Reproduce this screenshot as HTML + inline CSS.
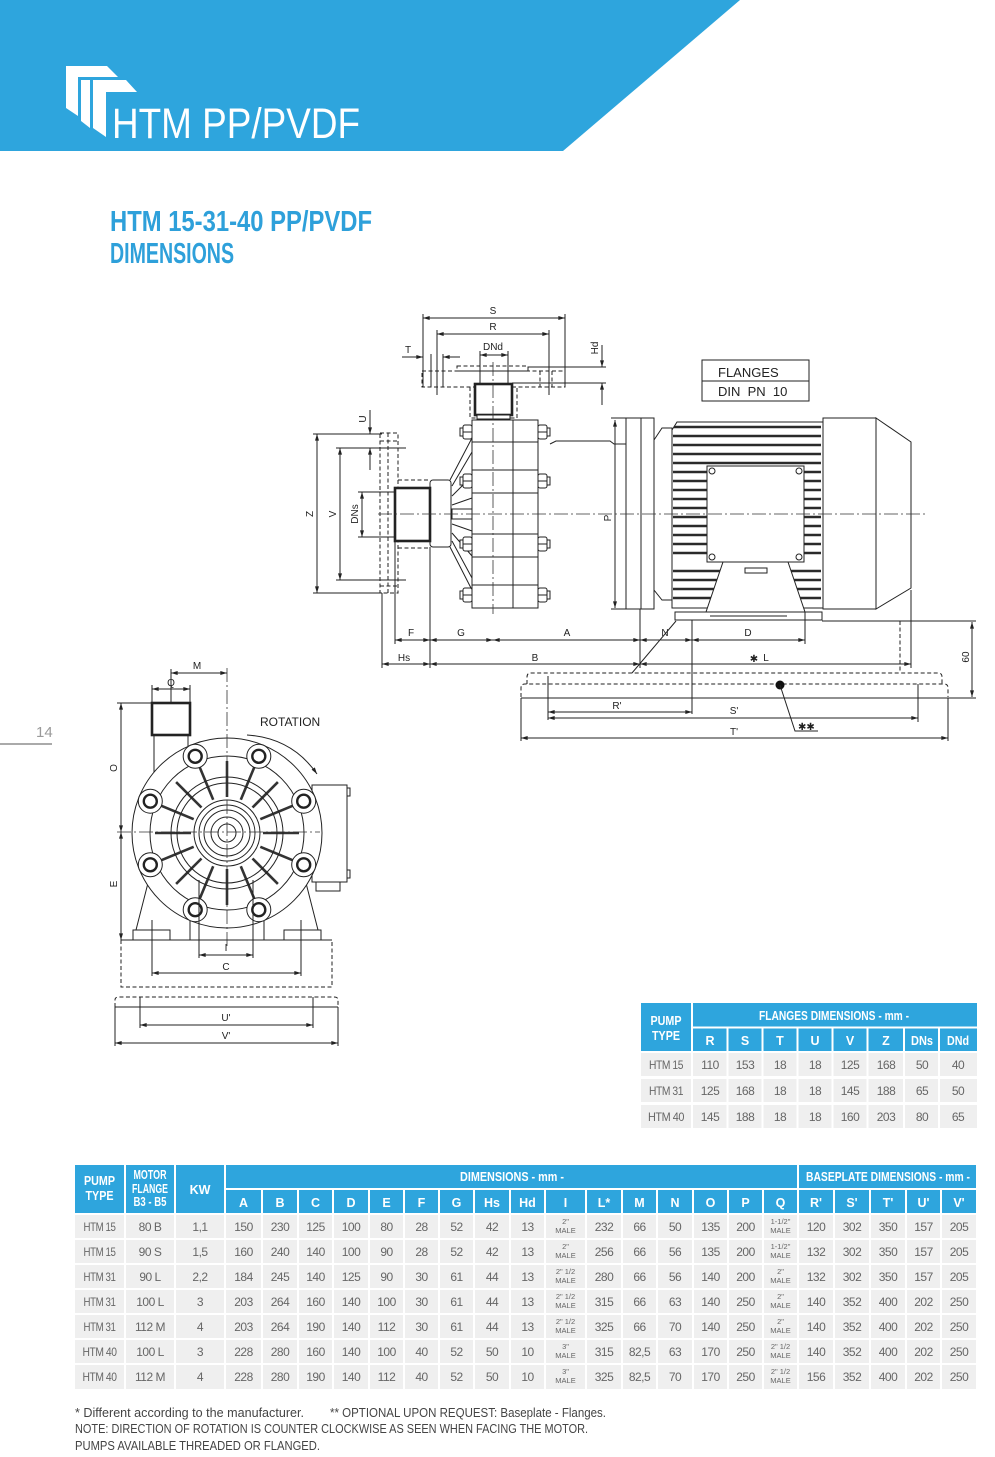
<!DOCTYPE html>
<html><head><meta charset="utf-8"><style>
html,body{margin:0;padding:0;background:#fff;}
svg{display:block;}
.d{stroke:#222;stroke-width:1;fill:none;}
.dd{stroke:#222;stroke-width:1;fill:none;stroke-dasharray:4,2.5;}
.cl{stroke:#333;stroke-width:0.8;fill:none;stroke-dasharray:14,3,2,3;}
.th{stroke:#222;stroke-width:2.6;fill:#fff;}
.w{stroke:#222;stroke-width:1;fill:#fff;}
.fin{stroke:#2a2a2a;stroke-width:2.6;}
.lb{font-family:"Liberation Sans",sans-serif;font-size:10px;fill:#222;}
.tb{font-family:"Liberation Sans Narrow","Liberation Sans",sans-serif;fill:#666;font-size:12px;letter-spacing:-0.5px;text-anchor:middle;}
.th2{font-family:"Liberation Sans Narrow","Liberation Sans",sans-serif;fill:#fff;font-size:12.5px;text-anchor:middle;font-weight:bold;}
.fr{font-family:"Liberation Sans Narrow","Liberation Sans",sans-serif;fill:#666;font-size:7.5px;text-anchor:middle;}
.ft{font-family:"Liberation Sans Narrow","Liberation Sans",sans-serif;fill:#444;font-size:12.5px;}
</style></head><body>
<svg width="995" height="1457" viewBox="0 0 995 1457" xmlns="http://www.w3.org/2000/svg">
<defs>
<marker id="a" viewBox="0 0 10 6" refX="10" refY="3" markerWidth="7" markerHeight="4" markerUnits="userSpaceOnUse" orient="auto-start-reverse"><path d="M0,0 L10,3 L0,6z" fill="#222"/></marker>
</defs>

<!-- HEADER -->
<polygon points="0,0 740,0 563,151 0,151" fill="#2ea5dd"/>
<polygon points="66,66 107,66 118,77 78,77 78,116 66,108" fill="#fff"/>
<polygon points="81,80 90,80 90,128 81,121" fill="#fff"/>
<polygon points="93,80 126,80 137,92 106,92 106,137 93,128" fill="#fff"/>
<text x="112" y="138" font-family="Liberation Sans, sans-serif" font-size="43" fill="#fff" textLength="248" lengthAdjust="spacingAndGlyphs">HTM PP/PVDF</text>

<!-- TITLE -->
<text x="110" y="231" font-family="Liberation Sans, sans-serif" font-size="29" font-weight="bold" fill="#2ea0da" textLength="262" lengthAdjust="spacingAndGlyphs">HTM 15-31-40 PP/PVDF</text>
<text x="110" y="263" font-family="Liberation Sans, sans-serif" font-size="29" font-weight="bold" fill="#2ea0da" textLength="124" lengthAdjust="spacingAndGlyphs">DIMENSIONS</text>

<!-- page number -->
<text x="36" y="737" font-family="Liberation Sans, sans-serif" font-size="15" fill="#9a9a9a">14</text>
<line x1="0" y1="744" x2="52" y2="744" stroke="#aaa" stroke-width="2"/>

<!-- ============ FRONT VIEW DRAWING ============ -->
<text class="lb" x="493" y="314" text-anchor="middle">S</text>
<line class="d" x1="423" y1="318" x2="565" y2="318" marker-start="url(#a)" marker-end="url(#a)"/>
<line class="d" x1="423" y1="314" x2="423" y2="387"/>
<line class="d" x1="565" y1="314" x2="565" y2="387"/>
<text class="lb" x="493" y="330" text-anchor="middle">R</text>
<line class="d" x1="437" y1="334" x2="549" y2="334" marker-start="url(#a)" marker-end="url(#a)"/>
<line class="d" x1="437" y1="330" x2="437" y2="395"/>
<line class="d" x1="549" y1="330" x2="549" y2="395"/>
<text class="lb" x="493" y="350" text-anchor="middle">DNd</text>
<line class="d" x1="480" y1="355" x2="508" y2="355" marker-start="url(#a)" marker-end="url(#a)"/>
<line class="d" x1="480" y1="351" x2="480" y2="383"/>
<line class="d" x1="508" y1="351" x2="508" y2="383"/>
<text class="lb" x="408" y="353" text-anchor="middle">T</text>
<line class="d" x1="402" y1="357" x2="423" y2="357" marker-end="url(#a)"/>
<line class="d" x1="460" y1="357" x2="443" y2="357" marker-end="url(#a)"/>
<line class="d" x1="431" y1="354" x2="431" y2="387"/>
<line class="d" x1="443" y1="354" x2="443" y2="387"/>
<text class="lb" transform="translate(598,348) rotate(-90)" text-anchor="middle">Hd</text>
<line class="d" x1="602" y1="345" x2="602" y2="367" marker-end="url(#a)"/>
<line class="d" x1="602" y1="405" x2="602" y2="383" marker-end="url(#a)"/>
<line class="d" x1="528" y1="367" x2="606" y2="367"/>
<line class="d" x1="512" y1="383" x2="606" y2="383"/>

<rect class="dd" x="422" y="371" width="143" height="16"/>
<rect class="dd" x="457" y="366" width="71" height="5"/>
<line class="dd" x1="540" y1="371" x2="540" y2="387"/>
<line class="dd" x1="552" y1="371" x2="552" y2="387"/>
<path class="dd" d="M470,387 V418 H517 V387"/>
<rect class="th" x="475" y="384" width="37" height="31"/>
<rect class="w" x="477" y="415" width="33" height="4"/>

<rect class="d" x="702" y="360" width="107" height="41"/>
<line class="d" x1="702" y1="381" x2="809" y2="381"/>
<text x="718" y="377" font-family="Liberation Sans, sans-serif" font-size="13" fill="#222">FLANGES</text>
<text x="718" y="396" font-family="Liberation Sans, sans-serif" font-size="13" fill="#222" xml:space="preserve">DIN  PN  10</text>

<line class="d" x1="317" y1="434" x2="317" y2="593" marker-start="url(#a)" marker-end="url(#a)"/>
<line class="d" x1="313" y1="434" x2="382" y2="434"/>
<line class="d" x1="313" y1="593" x2="382" y2="593"/>
<text class="lb" transform="translate(313,514) rotate(-90)" text-anchor="middle">Z</text>
<line class="d" x1="340" y1="448" x2="340" y2="580" marker-start="url(#a)" marker-end="url(#a)"/>
<line class="d" x1="336" y1="448" x2="406" y2="448"/>
<line class="d" x1="336" y1="580" x2="406" y2="580"/>
<text class="lb" transform="translate(336,514) rotate(-90)" text-anchor="middle">V</text>
<line class="d" x1="362" y1="492" x2="362" y2="537" marker-start="url(#a)" marker-end="url(#a)"/>
<line class="d" x1="358" y1="492" x2="396" y2="492"/>
<line class="d" x1="358" y1="537" x2="396" y2="537"/>
<text class="lb" transform="translate(358,514) rotate(-90)" text-anchor="middle">DNs</text>
<line class="d" x1="370" y1="410" x2="370" y2="434" marker-end="url(#a)"/>
<line class="d" x1="370" y1="470" x2="370" y2="448" marker-end="url(#a)"/>
<text class="lb" transform="translate(366,419) rotate(-90)" text-anchor="middle">U</text>

<rect class="dd" x="380" y="433" width="18" height="160"/>
<line class="dd" x1="380" y1="441" x2="398" y2="441"/>
<line class="dd" x1="380" y1="586" x2="398" y2="586"/>
<line class="dd" x1="388" y1="433" x2="388" y2="593"/>
<line class="dd" x1="398" y1="480" x2="430" y2="480"/>
<line class="dd" x1="398" y1="548" x2="430" y2="548"/>

<path class="d" d="M450,480 L472,438 M450,547 L472,590 M452,486 L472,452 M452,496 L472,476 M452,505 L472,498 M452,524 L472,531 M452,533 L472,556 M452,541 L472,578"/>
<rect class="w" x="452" y="509" width="20" height="10"/>
<rect class="w" x="430" y="480" width="21" height="67" rx="3"/>
<rect class="th" x="395" y="488" width="35" height="53"/>

<rect class="w" x="472" y="420" width="66" height="188"/>
<line class="d" x1="513" y1="420" x2="513" y2="608"/>
<path class="d" d="M472,442 H538 M472,470 H538 M472,493 H538 M472,534 H538 M472,557 H538 M472,585 H538"/>
<g class="w">
<rect x="463" y="425" width="9" height="14" rx="2"/><rect x="538" y="425" width="9" height="14" rx="2"/>
<rect x="463" y="474" width="9" height="14" rx="2"/><rect x="538" y="474" width="9" height="14" rx="2"/>
<rect x="463" y="537" width="9" height="14" rx="2"/><rect x="538" y="537" width="9" height="14" rx="2"/>
<rect x="463" y="588" width="9" height="14" rx="2"/><rect x="538" y="588" width="9" height="14" rx="2"/>
<rect x="460" y="428" width="3" height="8"/><rect x="547" y="428" width="3" height="8"/>
<rect x="460" y="477" width="3" height="8"/><rect x="547" y="477" width="3" height="8"/>
<rect x="460" y="540" width="3" height="8"/><rect x="547" y="540" width="3" height="8"/>
<rect x="460" y="591" width="3" height="8"/><rect x="547" y="591" width="3" height="8"/>
</g>
<path class="d" d="M463,432 H472 M538,432 H547 M463,481 H472 M538,481 H547 M463,544 H472 M538,544 H547 M463,595 H472 M538,595 H547"/>
<polyline class="d" points="550,444 556,441 610,441 614,444 626,444"/>

<line class="d" x1="615" y1="420" x2="615" y2="608" marker-start="url(#a)" marker-end="url(#a)"/>
<line class="d" x1="611" y1="418" x2="626" y2="418"/>
<line class="d" x1="611" y1="609" x2="626" y2="609"/>
<text class="lb" transform="translate(611,518) rotate(-90)" text-anchor="middle">P</text>

<rect class="w" x="626" y="418" width="28" height="191"/>
<line class="d" x1="641" y1="418" x2="641" y2="609"/>
<polygon class="w" points="654,440 662,428 672,428 672,600 662,600 654,590"/>
<polygon class="w" points="672,430 677,422 823,422 823,608 672,608"/>
<g class="fin">
<line x1="674" y1="427" x2="821" y2="427"/><line x1="673" y1="436" x2="821" y2="436"/>
<line x1="673" y1="445" x2="821" y2="445"/><line x1="673" y1="454" x2="821" y2="454"/>
<line x1="673" y1="463" x2="821" y2="463"/>
<line x1="673" y1="472" x2="707" y2="472"/><line x1="804" y1="472" x2="821" y2="472"/>
<line x1="673" y1="481" x2="707" y2="481"/><line x1="804" y1="481" x2="821" y2="481"/>
<line x1="673" y1="490" x2="707" y2="490"/><line x1="804" y1="490" x2="821" y2="490"/>
<line x1="673" y1="499" x2="707" y2="499"/><line x1="804" y1="499" x2="821" y2="499"/>
<line x1="673" y1="508" x2="707" y2="508"/><line x1="804" y1="508" x2="821" y2="508"/>
<line x1="673" y1="517" x2="707" y2="517"/><line x1="804" y1="517" x2="821" y2="517"/>
<line x1="673" y1="526" x2="707" y2="526"/><line x1="804" y1="526" x2="821" y2="526"/>
<line x1="673" y1="535" x2="707" y2="535"/><line x1="804" y1="535" x2="821" y2="535"/>
<line x1="673" y1="544" x2="707" y2="544"/><line x1="804" y1="544" x2="821" y2="544"/>
<line x1="673" y1="553" x2="707" y2="553"/><line x1="804" y1="553" x2="821" y2="553"/>
<line x1="673" y1="571" x2="720" y2="571"/><line x1="791" y1="571" x2="821" y2="571"/>
<line x1="673" y1="580" x2="717" y2="580"/><line x1="794" y1="580" x2="821" y2="580"/>
<line x1="673" y1="589" x2="714" y2="589"/><line x1="797" y1="589" x2="821" y2="589"/>
<line x1="673" y1="598" x2="711" y2="598"/><line x1="800" y1="598" x2="821" y2="598"/>
</g>
<rect class="w" x="707" y="466" width="97" height="96"/>
<circle class="d" cx="712" cy="471" r="3"/><circle class="d" cx="799" cy="471" r="3"/>
<circle class="d" cx="712" cy="557" r="3"/><circle class="d" cx="799" cy="557" r="3"/>
<polygon class="w" points="723,562 788,562 805,612 706,612"/>
<rect class="w" x="745" y="568" width="22" height="5"/>
<rect class="w" x="675" y="612" width="147" height="8"/>
<line class="d" x1="710" y1="616" x2="787" y2="616"/>
<rect class="w" x="823" y="418" width="53" height="191"/>
<polygon class="w" points="876,418 911,442 911,588 876,609"/>

<line class="cl" x1="378" y1="514" x2="926" y2="514"/>
<line class="cl" x1="493" y1="362" x2="493" y2="614"/>

<path class="d" d="M382,593 V668 M395,541 V644 M430,547 V668 M640,609 V668 M692,620 V714 M805,612 V644 M911,590 V668"/>
<line class="d" x1="395" y1="640" x2="430" y2="640" marker-start="url(#a)" marker-end="url(#a)"/>
<line class="d" x1="430" y1="640" x2="493" y2="640" marker-start="url(#a)" marker-end="url(#a)"/>
<line class="d" x1="493" y1="640" x2="640" y2="640" marker-start="url(#a)" marker-end="url(#a)"/>
<line class="d" x1="640" y1="640" x2="692" y2="640" marker-start="url(#a)" marker-end="url(#a)"/>
<line class="d" x1="692" y1="640" x2="805" y2="640" marker-start="url(#a)" marker-end="url(#a)"/>
<text class="lb" x="411" y="636" text-anchor="middle">F</text>
<text class="lb" x="461" y="636" text-anchor="middle">G</text>
<text class="lb" x="567" y="636" text-anchor="middle">A</text>
<text class="lb" x="665" y="636" text-anchor="middle">N</text>
<text class="lb" x="748" y="636" text-anchor="middle">D</text>
<line class="d" x1="382" y1="664" x2="430" y2="664" marker-start="url(#a)" marker-end="url(#a)"/>
<line class="d" x1="430" y1="664" x2="640" y2="664" marker-start="url(#a)" marker-end="url(#a)"/>
<line class="d" x1="640" y1="664" x2="911" y2="664" marker-start="url(#a)" marker-end="url(#a)"/>
<text class="lb" x="404" y="661" text-anchor="middle">Hs</text>
<text class="lb" x="535" y="661" text-anchor="middle">B</text>
<text class="lb" x="754" y="662" text-anchor="middle" font-size="9">✱</text>
<text class="lb" x="766" y="661" text-anchor="middle">L</text>
<line class="d" x1="676" y1="621" x2="632" y2="673"/>
<path class="dd" d="M822,621 H900 V673"/>
<line class="d" x1="822" y1="621" x2="976" y2="621"/>
<line class="d" x1="948" y1="698" x2="976" y2="698"/>
<line class="d" x1="972" y1="622" x2="972" y2="697" marker-start="url(#a)" marker-end="url(#a)"/>
<text class="lb" transform="translate(969,657) rotate(-90)" text-anchor="middle">60</text>
<path class="dd" d="M527,684 V677 Q527,673 531,673 H938 Q942,673 942,677 V684"/>
<path class="dd" d="M521,697 V688 Q521,684 525,684 H944 Q948,684 948,688 V697"/>
<line class="d" x1="521" y1="698" x2="948" y2="698"/>
<circle cx="780" cy="685" r="4.5" fill="#111"/>
<polyline class="d" points="780,685 795,731 818,731"/>
<text class="lb" x="798" y="730" font-size="8">✱✱</text>
<path class="d" d="M548,676 V720 M918,684 V722 M521,698 V741 M948,698 V741"/>
<line class="d" x1="548" y1="712" x2="692" y2="712" marker-start="url(#a)" marker-end="url(#a)"/>
<text class="lb" x="617" y="709" text-anchor="middle">R'</text>
<line class="d" x1="548" y1="718" x2="918" y2="718" marker-start="url(#a)" marker-end="url(#a)"/>
<text class="lb" x="734" y="714" text-anchor="middle">S'</text>
<line class="d" x1="521" y1="738" x2="948" y2="738" marker-start="url(#a)" marker-end="url(#a)"/>
<text class="lb" x="734" y="735" text-anchor="middle">T'</text>

<!-- ============ SIDE VIEW ============ -->
<text class="lb" x="197" y="669" text-anchor="middle">M</text>
<line class="d" x1="171" y1="673" x2="227" y2="673" marker-start="url(#a)" marker-end="url(#a)"/>
<line class="d" x1="171" y1="669" x2="171" y2="703"/>
<text class="lb" x="171" y="686" text-anchor="middle">Q</text>
<line class="d" x1="152" y1="689" x2="190" y2="689" marker-start="url(#a)" marker-end="url(#a)"/>
<line class="d" x1="152" y1="685" x2="152" y2="703"/>
<line class="d" x1="190" y1="685" x2="190" y2="703"/>
<line class="d" x1="117" y1="703" x2="152" y2="703"/>
<line class="d" x1="121" y1="703" x2="121" y2="832" marker-start="url(#a)" marker-end="url(#a)"/>
<line class="d" x1="121" y1="832" x2="121" y2="940" marker-start="url(#a)" marker-end="url(#a)"/>
<text class="lb" transform="translate(117,768) rotate(-90)" text-anchor="middle">O</text>
<text class="lb" transform="translate(117,884) rotate(-90)" text-anchor="middle">E</text>
<path class="d" d="M154,735 V775 M188,735 V760"/>
<rect class="w" x="312" y="785" width="35" height="97"/>
<rect class="d" x="347" y="788" width="3" height="8"/><rect class="d" x="347" y="870" width="3" height="8"/>
<rect class="w" x="316" y="882" width="24" height="9"/>
<path class="w" d="M148,883 L136,930 H170 V940 H190 V905 Z"/>
<path class="w" d="M306,883 L318,930 H284 V940 H264 V905 Z"/>
<rect class="w" x="133" y="930" width="37" height="10"/>
<rect class="w" x="284" y="930" width="37" height="10"/>
<circle class="w" cx="227" cy="833" r="95"/>
<circle class="d" cx="227" cy="833" r="77"/>
<g stroke="#333" stroke-width="2.6">
<line x1="263" y1="833" x2="299" y2="833"/><line x1="260.3" y1="846.8" x2="293.5" y2="860.6"/>
<line x1="252.5" y1="858.5" x2="277.9" y2="883.9"/><line x1="240.8" y1="866.3" x2="254.6" y2="899.5"/>
<line x1="227" y1="869" x2="227" y2="905"/><line x1="213.2" y1="866.3" x2="199.4" y2="899.5"/>
<line x1="201.5" y1="858.5" x2="176.1" y2="883.9"/><line x1="193.7" y1="846.8" x2="160.5" y2="860.6"/>
<line x1="191" y1="833" x2="155" y2="833"/><line x1="193.7" y1="819.2" x2="160.5" y2="805.4"/>
<line x1="201.5" y1="807.5" x2="176.1" y2="782.1"/><line x1="213.2" y1="799.7" x2="199.4" y2="766.5"/>
<line x1="227" y1="797" x2="227" y2="761"/><line x1="240.8" y1="799.7" x2="254.6" y2="766.5"/>
<line x1="252.5" y1="807.5" x2="277.9" y2="782.1"/><line x1="260.3" y1="819.2" x2="293.5" y2="805.4"/>
</g>
<circle class="d" cx="227" cy="833" r="56" stroke-width="1.6"/>
<circle class="d" cx="227" cy="833" r="50"/>
<circle class="w" cx="227" cy="833" r="33" stroke-width="1.5"/>
<circle class="d" cx="227" cy="833" r="28"/>
<circle class="d" cx="227" cy="833" r="23" stroke-width="1.5"/>
<circle class="w" cx="227" cy="833" r="16"/>
<circle class="d" cx="227" cy="833" r="9"/>
<g>
<circle class="w" cx="303.7" cy="864.8" r="12"/><circle class="w" cx="258.8" cy="909.7" r="12"/>
<circle class="w" cx="195.2" cy="909.7" r="12"/><circle class="w" cx="150.3" cy="864.8" r="12"/>
<circle class="w" cx="150.3" cy="801.2" r="12"/><circle class="w" cx="195.2" cy="756.3" r="12"/>
<circle class="w" cx="258.8" cy="756.3" r="12"/><circle class="w" cx="303.7" cy="801.2" r="12"/>
</g>
<g fill="none" stroke="#222" stroke-width="2.4">
<circle cx="303.7" cy="864.8" r="6.5"/><circle cx="258.8" cy="909.7" r="6.5"/>
<circle cx="195.2" cy="909.7" r="6.5"/><circle cx="150.3" cy="864.8" r="6.5"/>
<circle cx="150.3" cy="801.2" r="6.5"/><circle cx="195.2" cy="756.3" r="6.5"/>
<circle cx="258.8" cy="756.3" r="6.5"/><circle cx="303.7" cy="801.2" r="6.5"/>
</g>
<rect class="th" x="152" y="703" width="38" height="32"/>
<line class="cl" x1="227" y1="668" x2="227" y2="946"/>
<line class="cl" x1="117" y1="832" x2="320" y2="832"/>
<text x="260" y="726" font-family="Liberation Sans, sans-serif" font-size="12" fill="#222">ROTATION</text>
<path class="d" d="M247,735 Q292,738 317,774" marker-end="url(#a)"/>
<line class="d" x1="121" y1="940" x2="332" y2="940"/>
<path class="dd" d="M121,940 V987 H332 V940"/>
<path class="dd" d="M115,1007 V1000 Q115,997 119,997 H334 Q338,997 338,1000 V1007"/>
<line class="d" x1="115" y1="1007" x2="338" y2="1007"/>
<path class="d" d="M199,880 V958 M253,880 V958 M152,920 V976 M301,920 V976 M140,997 V1028 M313,997 V1028 M115,1007 V1046 M338,1007 V1046"/>
<line class="d" x1="199" y1="955" x2="253" y2="955" marker-start="url(#a)" marker-end="url(#a)"/>
<text class="lb" x="226" y="951" text-anchor="middle">I</text>
<line class="d" x1="152" y1="973" x2="301" y2="973" marker-start="url(#a)" marker-end="url(#a)"/>
<text class="lb" x="226" y="970" text-anchor="middle">C</text>
<line class="d" x1="140" y1="1025" x2="313" y2="1025" marker-start="url(#a)" marker-end="url(#a)"/>
<text class="lb" x="226" y="1021" text-anchor="middle">U'</text>
<line class="d" x1="115" y1="1043" x2="338" y2="1043" marker-start="url(#a)" marker-end="url(#a)"/>
<text class="lb" x="226" y="1039" text-anchor="middle">V'</text>

<!-- ============ FLANGES TABLE ============ -->
<rect x="641" y="1003" width="336" height="48" fill="#2ea5dd"/>
<g stroke="#fff" stroke-width="2">
<line x1="692" y1="1003" x2="692" y2="1051"/>
<line x1="692" y1="1027.5" x2="977" y2="1027.5"/>
<line x1="727.5" y1="1027" x2="727.5" y2="1051"/><line x1="762.5" y1="1027" x2="762.5" y2="1051"/>
<line x1="797.5" y1="1027" x2="797.5" y2="1051"/><line x1="832.5" y1="1027" x2="832.5" y2="1051"/>
<line x1="867.5" y1="1027" x2="867.5" y2="1051"/><line x1="904" y1="1027" x2="904" y2="1051"/>
<line x1="939" y1="1027" x2="939" y2="1051"/>
</g>
<rect x="641" y="1053" width="336" height="23" fill="#efefef"/>
<rect x="641" y="1079" width="336" height="23" fill="#efefef"/>
<rect x="641" y="1105" width="336" height="23" fill="#efefef"/>
<g stroke="#fff" stroke-width="2">
<line x1="692" y1="1053" x2="692" y2="1128"/><line x1="727.5" y1="1053" x2="727.5" y2="1128"/>
<line x1="762.5" y1="1053" x2="762.5" y2="1128"/><line x1="797.5" y1="1053" x2="797.5" y2="1128"/>
<line x1="832.5" y1="1053" x2="832.5" y2="1128"/><line x1="867.5" y1="1053" x2="867.5" y2="1128"/>
<line x1="904" y1="1053" x2="904" y2="1128"/><line x1="939" y1="1053" x2="939" y2="1128"/>
</g>
<text class="th2" x="666" y="1025" textLength="31" lengthAdjust="spacingAndGlyphs">PUMP</text>
<text class="th2" x="666" y="1040" textLength="28" lengthAdjust="spacingAndGlyphs">TYPE</text>
<text class="th2" x="834" y="1020" textLength="150" lengthAdjust="spacingAndGlyphs">FLANGES DIMENSIONS - mm -</text>
<text class="th2" x="710" y="1045">R</text><text class="th2" x="745" y="1045">S</text>
<text class="th2" x="780" y="1045">T</text><text class="th2" x="815" y="1045">U</text>
<text class="th2" x="850" y="1045">V</text><text class="th2" x="886" y="1045">Z</text>
<text class="th2" x="922" y="1045" textLength="22" lengthAdjust="spacingAndGlyphs">DNs</text><text class="th2" x="958" y="1045" textLength="22" lengthAdjust="spacingAndGlyphs">DNd</text>
<g class="tb">
<text x="666" y="1069" textLength="34" lengthAdjust="spacingAndGlyphs">HTM 15</text><text x="710" y="1069">110</text><text x="745" y="1069">153</text><text x="780" y="1069">18</text><text x="815" y="1069">18</text><text x="850" y="1069">125</text><text x="886" y="1069">168</text><text x="922" y="1069">50</text><text x="958" y="1069">40</text>
<text x="666" y="1095" textLength="34" lengthAdjust="spacingAndGlyphs">HTM 31</text><text x="710" y="1095">125</text><text x="745" y="1095">168</text><text x="780" y="1095">18</text><text x="815" y="1095">18</text><text x="850" y="1095">145</text><text x="886" y="1095">188</text><text x="922" y="1095">65</text><text x="958" y="1095">50</text>
<text x="666" y="1121" textLength="36" lengthAdjust="spacingAndGlyphs">HTM 40</text><text x="710" y="1121">145</text><text x="745" y="1121">188</text><text x="780" y="1121">18</text><text x="815" y="1121">18</text><text x="850" y="1121">160</text><text x="886" y="1121">203</text><text x="922" y="1121">80</text><text x="958" y="1121">65</text>
</g>

<!-- ============ MAIN TABLE ============ -->
<rect x="75" y="1165" width="901" height="48" fill="#2ea5dd"/>
<g stroke="#fff" stroke-width="2">
<line x1="125" y1="1165" x2="125" y2="1213"/><line x1="175" y1="1165" x2="175" y2="1213"/>
<line x1="225" y1="1165" x2="225" y2="1213"/><line x1="798" y1="1165" x2="798" y2="1213"/>
<line x1="225" y1="1189" x2="976" y2="1189"/>
<line x1="262" y1="1189" x2="262" y2="1213"/><line x1="298" y1="1189" x2="298" y2="1213"/>
<line x1="333" y1="1189" x2="333" y2="1213"/><line x1="369" y1="1189" x2="369" y2="1213"/>
<line x1="404" y1="1189" x2="404" y2="1213"/><line x1="439" y1="1189" x2="439" y2="1213"/>
<line x1="474" y1="1189" x2="474" y2="1213"/><line x1="510" y1="1189" x2="510" y2="1213"/>
<line x1="545" y1="1189" x2="545" y2="1213"/><line x1="586" y1="1189" x2="586" y2="1213"/>
<line x1="622" y1="1189" x2="622" y2="1213"/><line x1="657" y1="1189" x2="657" y2="1213"/>
<line x1="693" y1="1189" x2="693" y2="1213"/><line x1="728" y1="1189" x2="728" y2="1213"/>
<line x1="763" y1="1189" x2="763" y2="1213"/><line x1="834" y1="1189" x2="834" y2="1213"/>
<line x1="870" y1="1189" x2="870" y2="1213"/><line x1="906" y1="1189" x2="906" y2="1213"/>
<line x1="941" y1="1189" x2="941" y2="1213"/>
</g>
<g fill="#efefef">
<rect x="75" y="1215" width="901" height="23"/><rect x="75" y="1240" width="901" height="23"/>
<rect x="75" y="1265" width="901" height="23"/><rect x="75" y="1290" width="901" height="23"/>
<rect x="75" y="1315" width="901" height="23"/><rect x="75" y="1340" width="901" height="23"/>
<rect x="75" y="1365" width="901" height="24"/>
</g>
<g stroke="#fff" stroke-width="2">
<line x1="125" y1="1215" x2="125" y2="1389"/><line x1="175" y1="1215" x2="175" y2="1389"/>
<line x1="225" y1="1215" x2="225" y2="1389"/><line x1="262" y1="1215" x2="262" y2="1389"/>
<line x1="298" y1="1215" x2="298" y2="1389"/><line x1="333" y1="1215" x2="333" y2="1389"/>
<line x1="369" y1="1215" x2="369" y2="1389"/><line x1="404" y1="1215" x2="404" y2="1389"/>
<line x1="439" y1="1215" x2="439" y2="1389"/><line x1="474" y1="1215" x2="474" y2="1389"/>
<line x1="510" y1="1215" x2="510" y2="1389"/><line x1="545" y1="1215" x2="545" y2="1389"/>
<line x1="586" y1="1215" x2="586" y2="1389"/><line x1="622" y1="1215" x2="622" y2="1389"/>
<line x1="657" y1="1215" x2="657" y2="1389"/><line x1="693" y1="1215" x2="693" y2="1389"/>
<line x1="728" y1="1215" x2="728" y2="1389"/><line x1="763" y1="1215" x2="763" y2="1389"/>
<line x1="798" y1="1215" x2="798" y2="1389"/><line x1="834" y1="1215" x2="834" y2="1389"/>
<line x1="870" y1="1215" x2="870" y2="1389"/><line x1="906" y1="1215" x2="906" y2="1389"/>
<line x1="941" y1="1215" x2="941" y2="1389"/>
</g>
<text class="th2" x="99.5" y="1185" textLength="31" lengthAdjust="spacingAndGlyphs">PUMP</text>
<text class="th2" x="99.5" y="1200" textLength="28" lengthAdjust="spacingAndGlyphs">TYPE</text>
<text class="th2" x="150" y="1179" font-size="9.5" textLength="33" lengthAdjust="spacingAndGlyphs">MOTOR</text>
<text class="th2" x="150" y="1193" font-size="9.5" textLength="36" lengthAdjust="spacingAndGlyphs">FLANGE</text>
<text class="th2" x="150" y="1206" font-size="9.5" textLength="33" lengthAdjust="spacingAndGlyphs">B3 - B5</text>
<text class="th2" x="200" y="1194">KW</text>
<text class="th2" x="512" y="1181" textLength="104" lengthAdjust="spacingAndGlyphs">DIMENSIONS - mm -</text>
<text class="th2" x="888" y="1181" textLength="164" lengthAdjust="spacingAndGlyphs">BASEPLATE DIMENSIONS - mm -</text>
<g class="th2">
<text x="243.5" y="1207">A</text><text x="280" y="1207">B</text><text x="315.5" y="1207">C</text><text x="351" y="1207">D</text>
<text x="386.5" y="1207">E</text><text x="421.5" y="1207">F</text><text x="456.5" y="1207">G</text><text x="492" y="1207">Hs</text>
<text x="527.5" y="1207">Hd</text><text x="565.5" y="1207">I</text><text x="604" y="1207">L*</text><text x="639.5" y="1207">M</text>
<text x="675" y="1207">N</text><text x="710.5" y="1207">O</text><text x="745.5" y="1207">P</text><text x="780.5" y="1207">Q</text>
<text x="816" y="1207">R'</text><text x="852" y="1207">S'</text><text x="888" y="1207">T'</text><text x="923.5" y="1207">U'</text><text x="959" y="1207">V'</text>
</g>
<g class="tb">
<text x="99.5" y="1231" textLength="32" lengthAdjust="spacingAndGlyphs">HTM 15</text><text x="150" y="1231">80 B</text><text x="200" y="1231">1,1</text>
<text x="243.5" y="1231">150</text><text x="280" y="1231">230</text><text x="315.5" y="1231">125</text><text x="351" y="1231">100</text><text x="386.5" y="1231">80</text><text x="421.5" y="1231">28</text><text x="456.5" y="1231">52</text><text x="492" y="1231">42</text><text x="527.5" y="1231">13</text>
<text x="604" y="1231">232</text><text x="639.5" y="1231">66</text><text x="675" y="1231">50</text><text x="710.5" y="1231">135</text><text x="745.5" y="1231">200</text>
<text x="816" y="1231">120</text><text x="852" y="1231">302</text><text x="888" y="1231">350</text><text x="923.5" y="1231">157</text><text x="959" y="1231">205</text>
<text x="99.5" y="1256" textLength="32" lengthAdjust="spacingAndGlyphs">HTM 15</text><text x="150" y="1256">90 S</text><text x="200" y="1256">1,5</text>
<text x="243.5" y="1256">160</text><text x="280" y="1256">240</text><text x="315.5" y="1256">140</text><text x="351" y="1256">100</text><text x="386.5" y="1256">90</text><text x="421.5" y="1256">28</text><text x="456.5" y="1256">52</text><text x="492" y="1256">42</text><text x="527.5" y="1256">13</text>
<text x="604" y="1256">256</text><text x="639.5" y="1256">66</text><text x="675" y="1256">56</text><text x="710.5" y="1256">135</text><text x="745.5" y="1256">200</text>
<text x="816" y="1256">132</text><text x="852" y="1256">302</text><text x="888" y="1256">350</text><text x="923.5" y="1256">157</text><text x="959" y="1256">205</text>
<text x="99.5" y="1281" textLength="32" lengthAdjust="spacingAndGlyphs">HTM 31</text><text x="150" y="1281">90 L</text><text x="200" y="1281">2,2</text>
<text x="243.5" y="1281">184</text><text x="280" y="1281">245</text><text x="315.5" y="1281">140</text><text x="351" y="1281">125</text><text x="386.5" y="1281">90</text><text x="421.5" y="1281">30</text><text x="456.5" y="1281">61</text><text x="492" y="1281">44</text><text x="527.5" y="1281">13</text>
<text x="604" y="1281">280</text><text x="639.5" y="1281">66</text><text x="675" y="1281">56</text><text x="710.5" y="1281">140</text><text x="745.5" y="1281">200</text>
<text x="816" y="1281">132</text><text x="852" y="1281">302</text><text x="888" y="1281">350</text><text x="923.5" y="1281">157</text><text x="959" y="1281">205</text>
<text x="99.5" y="1306" textLength="32" lengthAdjust="spacingAndGlyphs">HTM 31</text><text x="150" y="1306">100 L</text><text x="200" y="1306">3</text>
<text x="243.5" y="1306">203</text><text x="280" y="1306">264</text><text x="315.5" y="1306">160</text><text x="351" y="1306">140</text><text x="386.5" y="1306">100</text><text x="421.5" y="1306">30</text><text x="456.5" y="1306">61</text><text x="492" y="1306">44</text><text x="527.5" y="1306">13</text>
<text x="604" y="1306">315</text><text x="639.5" y="1306">66</text><text x="675" y="1306">63</text><text x="710.5" y="1306">140</text><text x="745.5" y="1306">250</text>
<text x="816" y="1306">140</text><text x="852" y="1306">352</text><text x="888" y="1306">400</text><text x="923.5" y="1306">202</text><text x="959" y="1306">250</text>
<text x="99.5" y="1331" textLength="32" lengthAdjust="spacingAndGlyphs">HTM 31</text><text x="150" y="1331">112 M</text><text x="200" y="1331">4</text>
<text x="243.5" y="1331">203</text><text x="280" y="1331">264</text><text x="315.5" y="1331">190</text><text x="351" y="1331">140</text><text x="386.5" y="1331">112</text><text x="421.5" y="1331">30</text><text x="456.5" y="1331">61</text><text x="492" y="1331">44</text><text x="527.5" y="1331">13</text>
<text x="604" y="1331">325</text><text x="639.5" y="1331">66</text><text x="675" y="1331">70</text><text x="710.5" y="1331">140</text><text x="745.5" y="1331">250</text>
<text x="816" y="1331">140</text><text x="852" y="1331">352</text><text x="888" y="1331">400</text><text x="923.5" y="1331">202</text><text x="959" y="1331">250</text>
<text x="99.5" y="1356" textLength="34" lengthAdjust="spacingAndGlyphs">HTM 40</text><text x="150" y="1356">100 L</text><text x="200" y="1356">3</text>
<text x="243.5" y="1356">228</text><text x="280" y="1356">280</text><text x="315.5" y="1356">160</text><text x="351" y="1356">140</text><text x="386.5" y="1356">100</text><text x="421.5" y="1356">40</text><text x="456.5" y="1356">52</text><text x="492" y="1356">50</text><text x="527.5" y="1356">10</text>
<text x="604" y="1356">315</text><text x="639.5" y="1356">82,5</text><text x="675" y="1356">63</text><text x="710.5" y="1356">170</text><text x="745.5" y="1356">250</text>
<text x="816" y="1356">140</text><text x="852" y="1356">352</text><text x="888" y="1356">400</text><text x="923.5" y="1356">202</text><text x="959" y="1356">250</text>
<text x="99.5" y="1381" textLength="34" lengthAdjust="spacingAndGlyphs">HTM 40</text><text x="150" y="1381">112 M</text><text x="200" y="1381">4</text>
<text x="243.5" y="1381">228</text><text x="280" y="1381">280</text><text x="315.5" y="1381">190</text><text x="351" y="1381">140</text><text x="386.5" y="1381">112</text><text x="421.5" y="1381">40</text><text x="456.5" y="1381">52</text><text x="492" y="1381">50</text><text x="527.5" y="1381">10</text>
<text x="604" y="1381">325</text><text x="639.5" y="1381">82,5</text><text x="675" y="1381">70</text><text x="710.5" y="1381">170</text><text x="745.5" y="1381">250</text>
<text x="816" y="1381">156</text><text x="852" y="1381">352</text><text x="888" y="1381">400</text><text x="923.5" y="1381">202</text><text x="959" y="1381">250</text>
</g>
<g class="fr">
<text x="565.5" y="1224">2"</text><text x="565.5" y="1233">MALE</text>
<text x="565.5" y="1249">2"</text><text x="565.5" y="1258">MALE</text>
<text x="565.5" y="1274">2" 1/2</text><text x="565.5" y="1283">MALE</text>
<text x="565.5" y="1299">2" 1/2</text><text x="565.5" y="1308">MALE</text>
<text x="565.5" y="1324">2" 1/2</text><text x="565.5" y="1333">MALE</text>
<text x="565.5" y="1349">3"</text><text x="565.5" y="1358">MALE</text>
<text x="565.5" y="1374">3"</text><text x="565.5" y="1383">MALE</text>
<text x="780.5" y="1224">1-1/2"</text><text x="780.5" y="1233">MALE</text>
<text x="780.5" y="1249">1-1/2"</text><text x="780.5" y="1258">MALE</text>
<text x="780.5" y="1274">2"</text><text x="780.5" y="1283">MALE</text>
<text x="780.5" y="1299">2"</text><text x="780.5" y="1308">MALE</text>
<text x="780.5" y="1324">2"</text><text x="780.5" y="1333">MALE</text>
<text x="780.5" y="1349">2" 1/2</text><text x="780.5" y="1358">MALE</text>
<text x="780.5" y="1374">2" 1/2</text><text x="780.5" y="1383">MALE</text>
</g>

<!-- FOOTER NOTES -->
<text class="ft" x="75" y="1417" textLength="229" lengthAdjust="spacingAndGlyphs">* Different according to the manufacturer.</text>
<text class="ft" x="330" y="1417" textLength="276" lengthAdjust="spacingAndGlyphs">** OPTIONAL UPON REQUEST: Baseplate - Flanges.</text>
<text class="ft" x="75" y="1433" textLength="513" lengthAdjust="spacingAndGlyphs">NOTE: DIRECTION OF ROTATION IS COUNTER CLOCKWISE AS SEEN WHEN FACING THE MOTOR.</text>
<text class="ft" x="75" y="1450" textLength="245" lengthAdjust="spacingAndGlyphs">PUMPS AVAILABLE THREADED OR FLANGED.</text>
</svg>
</body></html>
